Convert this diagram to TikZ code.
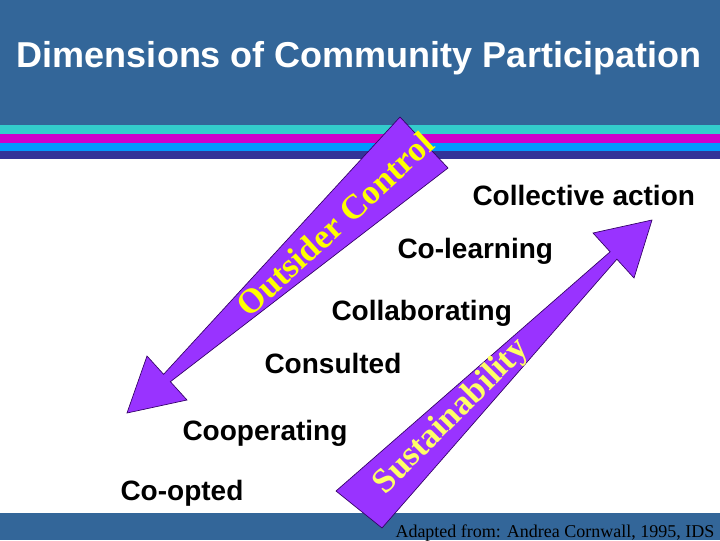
\documentclass[tikz,border=0pt]{standalone}
\usepackage{fontspec}
\setmainfont{Liberation Serif}
\setsansfont{Liberation Sans}

\definecolor{slideblue}{RGB}{51,102,153}
\definecolor{bandcyan}{RGB}{51,204,204}
\definecolor{bandmagenta}{RGB}{204,0,204}
\definecolor{bandazure}{RGB}{0,153,255}
\definecolor{bandindigo}{RGB}{51,51,153}
\definecolor{wedgepurple}{RGB}{153,51,255}
\definecolor{wedgeline}{RGB}{51,0,102}
\definecolor{textyellow}{RGB}{255,255,0}
\definecolor{paleyellow}{RGB}{255,255,102}

\tikzset{every picture/.style={line width=0.75pt}}
\tikzset{
wedge/.style={draw=wedgeline, line width=0.5pt, fill=wedgepurple},
wedgetext/.style={inner sep=0pt, font=\rmfamily\bfseries\fontsize{26}{26}\selectfont},
stage/.style={anchor=base west, inner sep=0pt, font=\sffamily\bfseries\fontsize{21}{21}\selectfont}
}

\begin{document}
\begin{tikzpicture}[x=0.75pt,y=0.75pt,yscale=-1,xscale=1]

\useasboundingbox (0,0) rectangle (720,540);

% BACKGROUND

\fill [white] (0,0) rectangle (720,540);
\fill [slideblue] (0,0) rectangle (720,125);
\fill [bandcyan] (0,125) rectangle (720,134);
\fill [bandmagenta] (0,134) rectangle (720,143);
\fill [bandazure] (0,143) rectangle (720,151);
\fill [bandindigo] (0,151) rectangle (720,159);
\fill [slideblue] (0,513) rectangle (720,540);

% COORDINATES

\coordinate (o1) at (400,117);
\coordinate (o2) at (448,168);
\coordinate (o3) at (170.4,381.7);
\coordinate (o4) at (187,400);
\coordinate (o5) at (127,413);
\coordinate (o6) at (147,356);
\coordinate (o7) at (163.6,374.3);

\coordinate (s1) at (336,491);
\coordinate (s2) at (610.1,251.8);
\coordinate (s3) at (593,233);
\coordinate (s4) at (652,220);
\coordinate (s5) at (634,278);
\coordinate (s6) at (616.9,259.2);
\coordinate (s7) at (382,528);

% ARROWS

\draw [wedge] (o1) -- (o2) -- (o3) -- (o4) -- (o5) -- (o6) -- (o7) -- cycle ;
\draw [wedge] (s1) -- (s2) -- (s3) -- (s4) -- (s5) -- (s6) -- (s7) -- cycle ;

\node [wedgetext, text=textyellow, rotate=42.6] (outsider) at (335,224) {Outsider Control};
\node [wedgetext, text=paleyellow, rotate=45] (sustain) at (452,417) {Sustainability};

% LABELS

\node [anchor=base, inner sep=0pt, text=white, font=\sffamily\bfseries\fontsize{27}{27}\selectfont] (title) at (359,67) {Dimensions of Community Participation};

\node [stage] (collective) at (472,205) {Collective action};
\node [stage] (colearning) at (397,258) {Co-learning};
\node [stage] (collaborating) at (331,320) {Collaborating};
\node [stage] (consulted) at (264,373) {Consulted};
\node [stage] (cooperating) at (182,440) {Cooperating};
\node [stage] (coopted) at (120,500) {Co-opted};

\node [anchor=base west, inner sep=0pt, font=\rmfamily\fontsize{13.5}{13.5}\selectfont] (source) at (395,537) {Adapted from: Andrea Cornwall, 1995, IDS};

\end{tikzpicture}
\end{document}
